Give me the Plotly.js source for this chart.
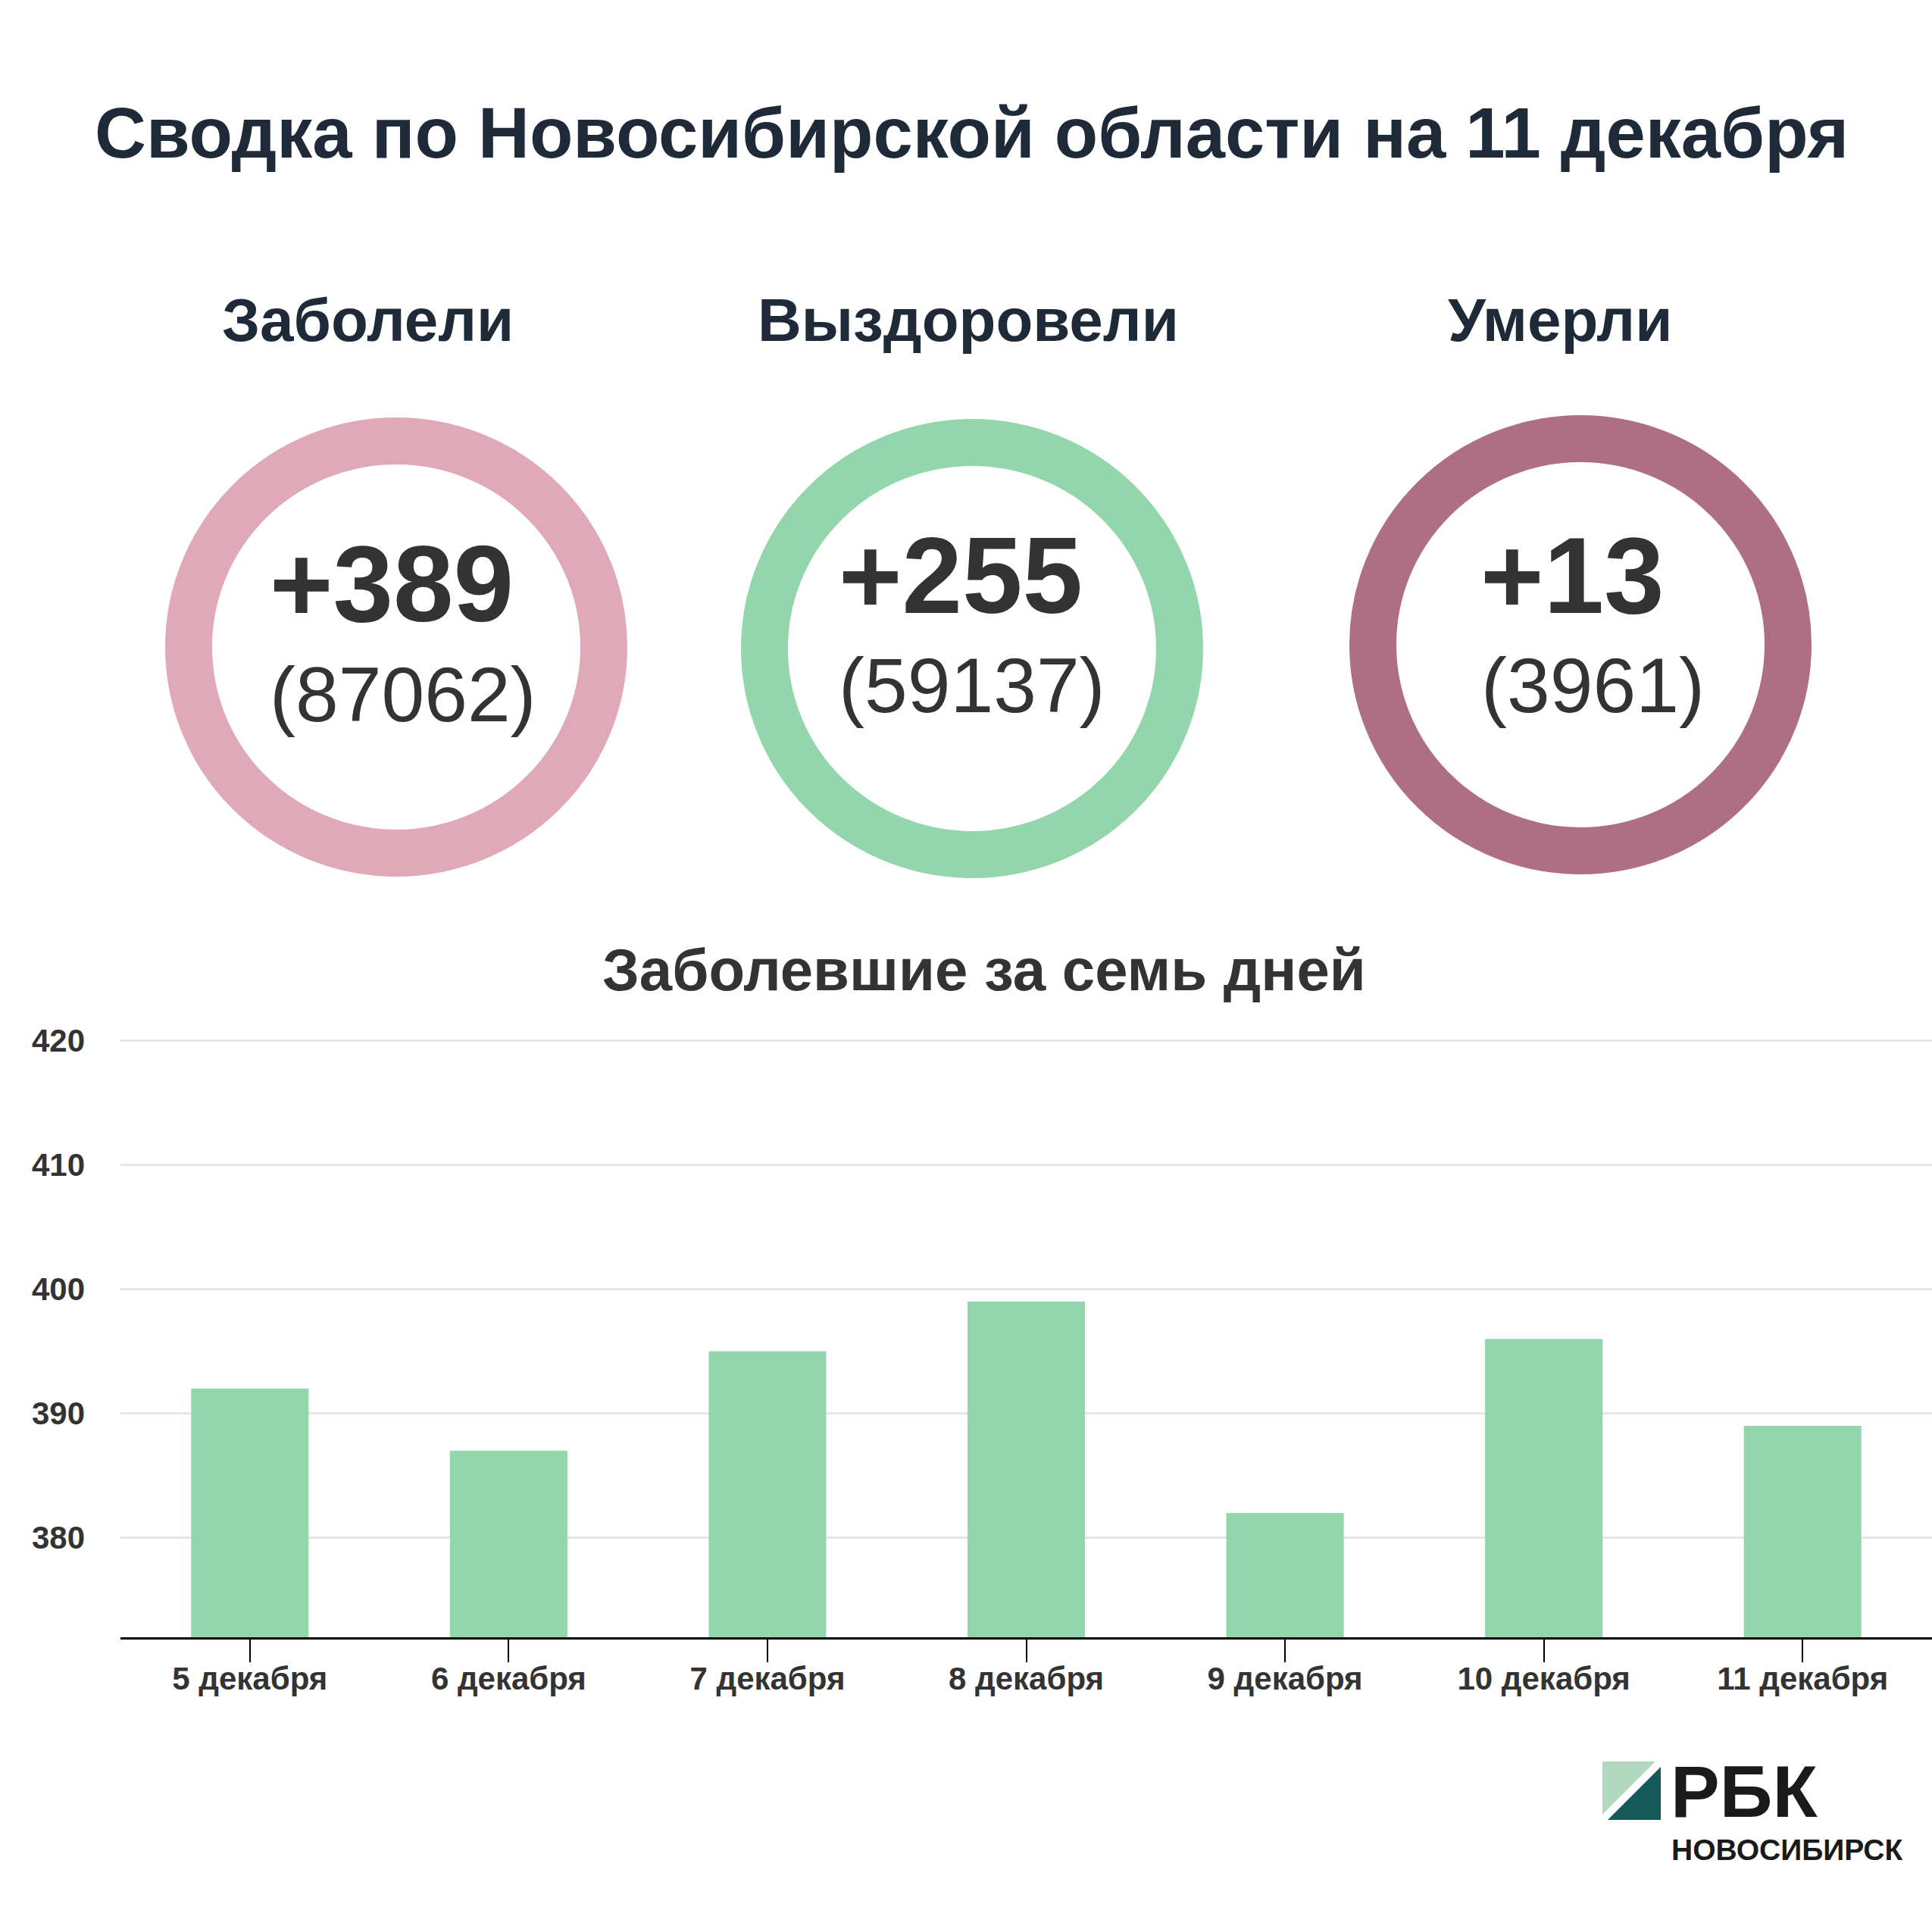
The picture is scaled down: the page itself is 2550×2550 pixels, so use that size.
<!DOCTYPE html>
<html>
<head>
<meta charset="utf-8">
<script src="https://cdn.plot.ly/plotly-3.0.1.min.js"></script>
<style>
  html, body { margin: 0; padding: 0; background: #ffffff; }
  #chart { width: 2550px; height: 2550px; }
</style>
</head>
<body>
<div id="chart"></div>
<script>
// ---- data ----
const mainTitle = 'Сводка по Новосибирской области на 11 декабря';
const chartTitle = 'Заболевшие за семь дней';
const days = ['5 декабря', '6 декабря', '7 декабря', '8 декабря', '9 декабря', '10 декабря', '11 декабря'];
const newCases = [392, 387, 395, 399, 382, 396, 389];
const yTickValues = [380, 390, 400, 410, 420];
const summaryLabels = ['Заболели', 'Выздоровели', 'Умерли'];
const summaryDaily = [389, 255, 13];
const summaryTotals = [87062, 59137, 3961];
const logoTop = 'РБК';
const logoBottom = 'НОВОСИБИРСК';

// ---- layout geometry (pixels) ----
const W = 2550, H = 2550;
const M = { l: 159, r: 0, t: 1370, b: 389 };
const PW = W - M.l - M.r, PH = H - M.t - M.b;
const px = x => (x - M.l) / PW;
const py = y => (H - M.b - y) / PH;

const FONT = '"Liberation Sans", Arial, sans-serif';
const NAVY = '#1f2a38';
const DARK = '#333333';
const ringColors = ['#dfa9b9', '#93d6ac', '#ae6e83'];
const barColor = '#93d6ac';

const headerX = [485, 1278, 2059];
const circleCX = [523, 1283, 2086];
const circleCY = [854, 856, 851];
const dailyX = [517, 1268, 2075];
const dailyY = [770, 759, 759];
const totalX = [532, 1283, 2102];
const totalY = [917, 905, 905];

function ann(text, x, y, size, bold, color, xanchor) {
  return {
    text: bold ? '<b>' + text + '</b>' : text,
    xref: 'paper', yref: 'paper',
    x: px(x), y: py(y),
    xanchor: xanchor || 'center', yanchor: 'middle',
    showarrow: false,
    font: { family: FONT, size: size, color: color }
  };
}

const annotations = [];
const shapes = [];

annotations.push(ann(mainTitle, 1282, 175, 94, true, NAVY));
annotations.push(ann(chartTitle, 1299, 1280, 78, true, DARK));

summaryLabels.forEach((lab, i) => {
  annotations.push(ann(lab, headerX[i], 422, 80, true, NAVY));
  annotations.push(ann('+' + summaryDaily[i], dailyX[i], dailyY[i], 143, true, DARK));
  annotations.push(ann('(' + summaryTotals[i] + ')', totalX[i], totalY[i], 102, false, DARK));
  shapes.push({
    type: 'circle', xref: 'paper', yref: 'paper',
    xsizemode: 'pixel', ysizemode: 'pixel',
    xanchor: px(circleCX[i]), yanchor: py(circleCY[i]),
    x0: -274, x1: 274, y0: -272, y1: 272,
    line: { color: ringColors[i], width: 62 },
    fillcolor: 'rgba(0,0,0,0)', layer: 'below'
  });
});

// logo
function tri(pts, color) {
  const d = pts.map((p, k) => (k ? 'L' : 'M') + px(p[0]) + ',' + py(p[1])).join(' ') + ' Z';
  return { type: 'path', xref: 'paper', yref: 'paper', path: d,
           fillcolor: color, line: { width: 0 } };
}
shapes.push(tri([[2115, 2325], [2185, 2325], [2115, 2395]], '#b2d9c0'));
shapes.push(tri([[2192, 2332], [2192, 2402], [2122, 2402]], '#17585b'));
annotations.push(ann(logoTop, 2203, 2364, 97, true, '#1a1a1a', 'left'));
annotations.push(ann(logoBottom, 2204, 2441, 39, true, '#1a1a1a', 'left'));

const trace = {
  type: 'bar',
  x: days,
  y: newCases,
  marker: { color: barColor },
  hoverinfo: 'skip'
};

const layout = {
  width: W, height: H,
  margin: M,
  paper_bgcolor: '#ffffff',
  plot_bgcolor: '#ffffff',
  showlegend: false,
  bargap: 0.546,
  font: { family: FONT, color: DARK },
  xaxis: {
    type: 'category',
    showline: true, linecolor: '#000000', linewidth: 3,
    ticks: 'outside', ticklen: 30, tickwidth: 2, tickcolor: '#000000',
    ticklabelstandoff: -14,
    tickfont: { family: FONT, size: 42, color: DARK, weight: 'bold' },
    showgrid: false, zeroline: false,
    fixedrange: true
  },
  yaxis: {
    range: [372, 420.2],
    tickvals: yTickValues,
    ticktext: yTickValues.map(String),
    showgrid: true, gridcolor: '#e6e6e6', gridwidth: 3,
    zeroline: false, showline: false, ticks: '',
    ticklabelstandoff: 46,
    tickfont: { family: FONT, size: 42, color: DARK, weight: 'bold' },
    fixedrange: true
  },
  annotations: annotations,
  shapes: shapes
};

Plotly.newPlot('chart', [trace], layout, { displayModeBar: false, staticPlot: true });
</script>
</body>
</html>
